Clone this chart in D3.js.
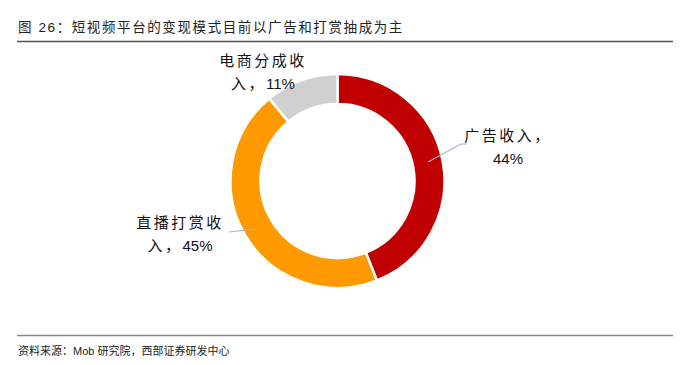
<!DOCTYPE html>
<html>
<head>
<meta charset="utf-8">
<script src="https://cdn.jsdelivr.net/npm/d3@7"></script>
<style>
  body { margin: 0; background: #fff; }
  text { font-family: "Liberation Sans", "Noto Sans CJK SC", sans-serif; }
</style>
</head>
<body>
<svg id="chart"></svg>
<script>
const width = 699;
const height = 365;

const categories = ["广告收入", "直播打赏收入", "电商分成收入"];
const shares = [44, 45, 11];
const colors = ["#c00000", "#ff9900", "#d0d0d0"];
// label lines as printed: [chinese part, number part]
const labelLines = [
  [["广告收入，", ""], ["", "44%"]],
  [["直播打赏收", ""], ["入，", "45%"]],
  [["电商分成收", ""], ["入，", "11%"]]
];

const svg = d3.select("#chart")
  .attr("width", width)
  .attr("height", height);

// title + rules
svg.append("text")
  .attr("x", 18)
  .attr("y", 32)
  .style("font-size", "13.5px")
  .style("letter-spacing", "1.6px")
  .style("fill", "#222")
  .text("图 26：短视频平台的变现模式目前以广告和打赏抽成为主");

svg.append("line")
  .attr("x1", 17).attr("x2", 673)
  .attr("y1", 41.5).attr("y2", 41.5)
  .attr("stroke", "#555").attr("stroke-width", 1.5);

svg.append("line")
  .attr("x1", 17).attr("x2", 673)
  .attr("y1", 335.5).attr("y2", 335.5)
  .attr("stroke", "#888").attr("stroke-width", 1.5);

svg.append("text")
  .attr("x", 18)
  .attr("y", 355)
  .style("font-size", "11px")
  .style("fill", "#222")
  .text("资料来源：Mob 研究院，西部证券研发中心");

// donut
const cx = 337.5, cy = 181;
const outerR = 107, innerR = 77;

const pie = d3.pie().sort(null).value(d => d);
const arc = d3.arc().innerRadius(innerR).outerRadius(outerR);

const g = svg.append("g").attr("transform", `translate(${cx}, ${cy})`);

g.selectAll("path")
  .data(pie(shares))
  .enter()
  .append("path")
  .attr("d", arc)
  .attr("fill", (d, i) => colors[i])
  .attr("stroke", "#fff")
  .attr("stroke-width", 2.5);

// labels
const labelPos = [
  { x: 508, y: 141 },
  { x: 180, y: 228 },
  { x: 263, y: 66 }
];

labelLines.forEach((lines, i) => {
  lines.forEach((ln, j) => {
    const t = svg.append("text")
      .attr("x", labelPos[i].x)
      .attr("y", labelPos[i].y + j * 23)
      .attr("text-anchor", "middle")
      .style("font-size", "15px")
      .style("fill", "#111");
    if (ln[0]) t.append("tspan").attr("letter-spacing", "2.5px").text(ln[0]);
    if (ln[1]) t.append("tspan").text(ln[1]);
  });
});

// leader lines
const leaders = [
  [[428, 162], [461, 144], [467, 144]],
  [[229, 232], [256, 229]]
];
leaders.forEach(pts => {
  svg.append("path")
    .attr("d", d3.line()(pts))
    .attr("fill", "none")
    .attr("stroke", "#a5b3c8")
    .attr("stroke-width", 1.2);
});
</script>
</body>
</html>
